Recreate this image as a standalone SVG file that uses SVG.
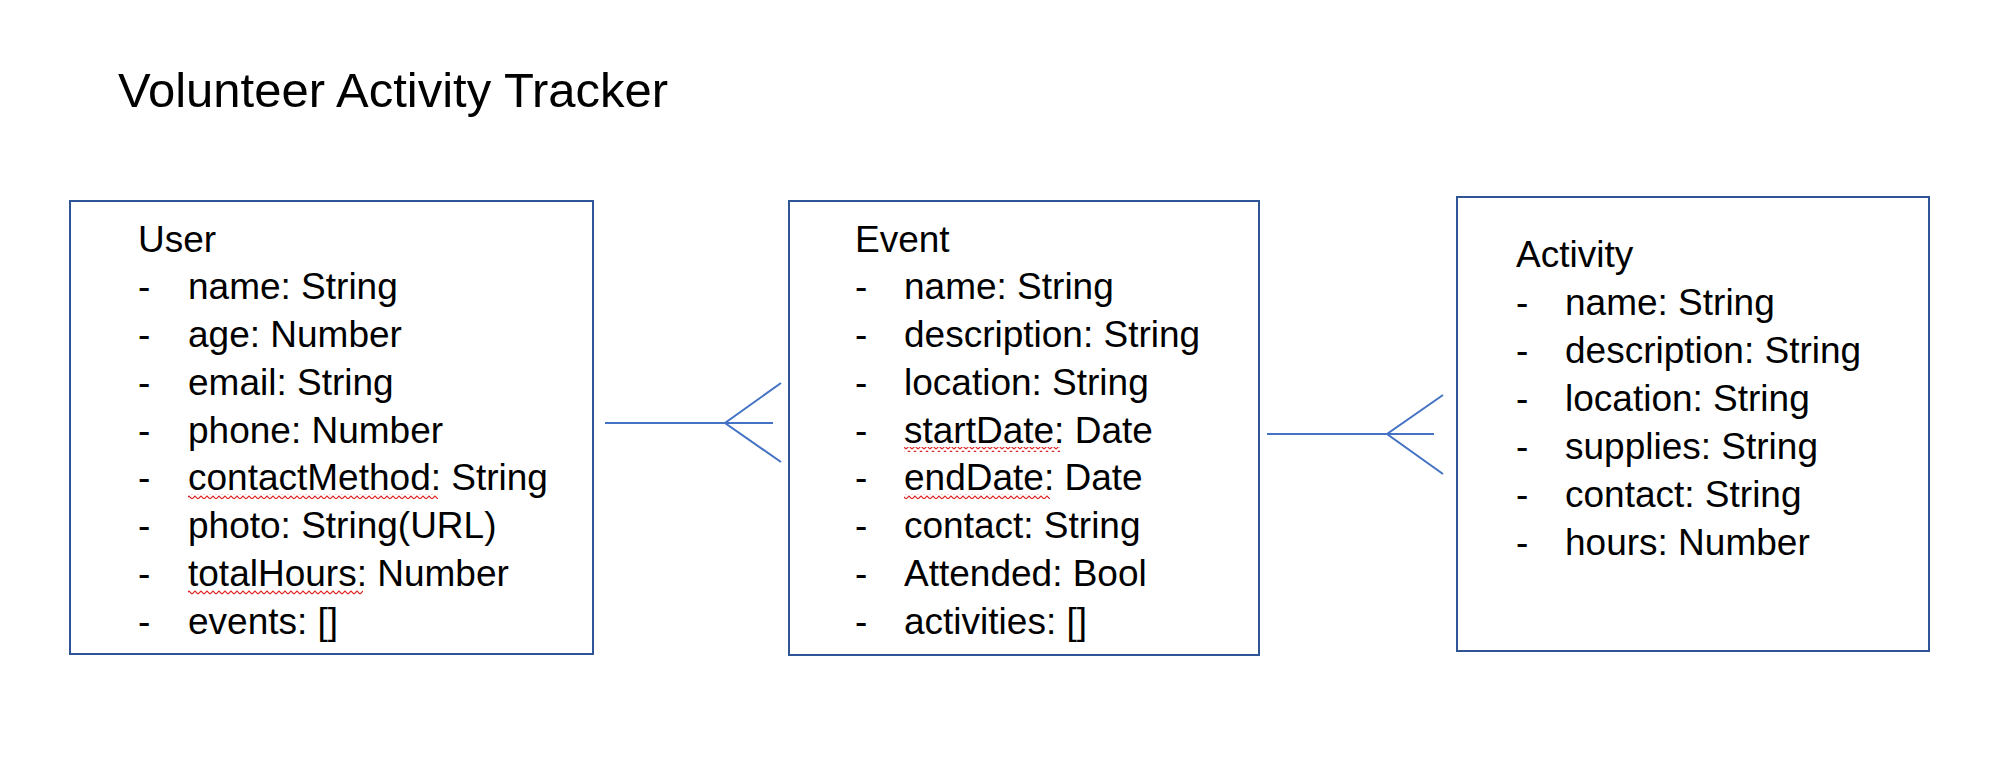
<svg xmlns="http://www.w3.org/2000/svg" width="1992" height="764" viewBox="0 0 1992 764">
<style>
.box{fill:#fff;stroke:#2F5597;stroke-width:2}
.t{font-family:"Liberation Sans",Arial,sans-serif;font-size:37px;fill:#000}
.title{font-family:"Liberation Sans",Arial,sans-serif;font-size:49px;fill:#000}
.conn{stroke:#4472C4;stroke-width:2;fill:none}
.sq{fill:url(#wave)}
</style>
<defs>
<pattern id="wave" patternUnits="userSpaceOnUse" width="6" height="5">
<path d="M0 4 L3 1 L6 4" fill="none" stroke="#E02020" stroke-width="1.1"/>
</pattern>
</defs>
<rect width="1992" height="764" fill="#fff"/>
<text class="title" x="118" y="107">Volunteer Activity Tracker</text>

<g id="user">
<rect class="box" x="70" y="201" width="523" height="453"/>
<text class="t" x="138" y="252">User</text>
<g class="t">
<text x="138" y="299">-</text><text x="188" y="299">name: String</text>
<text x="138" y="347">-</text><text x="188" y="347">age: Number</text>
<text x="138" y="395">-</text><text x="188" y="395">email: String</text>
<text x="138" y="443">-</text><text x="188" y="443">phone: Number</text>
<text x="138" y="490">-</text><text x="188" y="490">contactMethod: String</text>
<text x="138" y="538">-</text><text x="188" y="538">photo: String(URL)</text>
<text x="138" y="586">-</text><text x="188" y="586">totalHours: Number</text>
<text x="138" y="634">-</text><text x="188" y="634">events: []</text>
</g>
<rect class="sq" x="188" y="494" width="250" height="5"/>
<rect class="sq" x="188" y="590" width="175" height="5"/>
</g>

<g id="event">
<rect class="box" x="789" y="201" width="470" height="454"/>
<text class="t" x="855" y="252">Event</text>
<g class="t">
<text x="855" y="299">-</text><text x="904" y="299">name: String</text>
<text x="855" y="347">-</text><text x="904" y="347">description: String</text>
<text x="855" y="395">-</text><text x="904" y="395">location: String</text>
<text x="855" y="443">-</text><text x="904" y="443">startDate: Date</text>
<text x="855" y="490">-</text><text x="904" y="490">endDate: Date</text>
<text x="855" y="538">-</text><text x="904" y="538">contact: String</text>
<text x="855" y="586">-</text><text x="904" y="586">Attended: Bool</text>
<text x="855" y="634">-</text><text x="904" y="634">activities: []</text>
</g>
<rect class="sq" x="904" y="447" width="156" height="5"/>
<rect class="sq" x="904" y="494" width="146" height="5"/>
</g>

<g id="activity">
<rect class="box" x="1457" y="197" width="472" height="454"/>
<text class="t" x="1516" y="267">Activity</text>
<g class="t">
<text x="1516" y="315">-</text><text x="1565" y="315">name: String</text>
<text x="1516" y="363">-</text><text x="1565" y="363">description: String</text>
<text x="1516" y="411">-</text><text x="1565" y="411">location: String</text>
<text x="1516" y="459">-</text><text x="1565" y="459">supplies: String</text>
<text x="1516" y="507">-</text><text x="1565" y="507">contact: String</text>
<text x="1516" y="555">-</text><text x="1565" y="555">hours: Number</text>
</g>
</g>

<g id="connectors">
<path class="conn" d="M605 423 H773 M781 383 L725 423 L781 462"/>
<path class="conn" d="M1267 434 H1434 M1443 395 L1387 434 L1443 474"/>
</g>
</svg>
